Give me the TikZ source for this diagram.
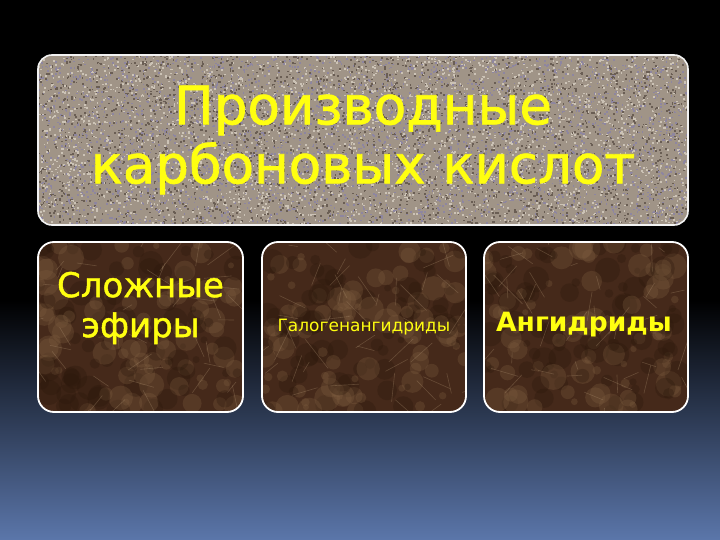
\documentclass[tikz,border=0pt]{standalone}
\usepackage{fontspec}
\setmainfont{DejaVu Sans}
\newfontfamily\thickfont[FakeBold=1.3]{DejaVu Sans}
\usetikzlibrary{calc}
\definecolor{bgblue}{HTML}{5B76AA}
\definecolor{bgmid}{HTML}{1C263A}
\definecolor{granite}{HTML}{A09487}
\definecolor{granD}{HTML}{6A5E54}
\definecolor{granL}{HTML}{CCC3B6}
\definecolor{granP}{HTML}{8E86A0}
\definecolor{marble}{HTML}{45291A}
\definecolor{marD}{HTML}{2A170B}
\definecolor{marL}{HTML}{7E5E40}
\definecolor{marV}{HTML}{A88C6C}
\definecolor{txtyellow}{HTML}{FFFF10}
\tikzset{
  granitebox/.style 2 args={draw=white!90!gray, line width=1.6pt, rounded corners=14pt,
    minimum width=#1, minimum height=#2, fill=granite, inner sep=0pt,
    path picture={
      \path (path picture bounding box.north west) coordinate (nw);
      \pgfmathsetseed{11}
      \foreach \i in {1,...,9000}{
        \pgfmathsetmacro\px{rnd*#1}
        \pgfmathsetmacro\py{rnd*#2}
        \pgfmathtruncatemacro\k{rnd*3}
        \ifcase\k \def\col{granD}\or \def\col{granL}\else \def\col{granP}\fi
        \fill[\col, sharp corners] ($(nw)+(\px,\py)$) rectangle +(1.7,1.7);
      }
    }},
  marblebox/.style n args={3}{draw=white, line width=1.8pt, rounded corners=16pt,
    minimum width=#1, minimum height=#2, fill=marble, inner sep=0pt,
    path picture={
      \path (path picture bounding box.north west) coordinate (nw);
      \pgfmathsetseed{#3}
      \foreach \i in {1,...,160}{
        \pgfmathsetmacro\px{rnd*#1}
        \pgfmathsetmacro\py{rnd*#2}
        \pgfmathsetmacro\r{3+rnd*10}
        \pgfmathtruncatemacro\k{rnd*2}
        \ifcase\k \def\col{marD}\else \def\col{marL}\fi
        \fill[\col, opacity=0.3, sharp corners] ($(nw)+(\px,\py)$) circle (\r);
      }
      \foreach \i in {1,...,45}{
        \pgfmathsetmacro\px{rnd*#1}
        \pgfmathsetmacro\py{rnd*#2}
        \pgfmathsetmacro\dx{(rnd-0.5)*60}
        \pgfmathsetmacro\dy{(rnd-0.5)*60}
        \draw[marV, opacity=0.35, line width=0.6pt, sharp corners] ($(nw)+(\px,\py)$) -- ++(\dx,\dy);
      }
    }},
  ytext/.style={text=txtyellow, align=center, inner sep=0pt}
}
\begin{document}
\begin{tikzpicture}[x=1pt,y=-1pt]
\useasboundingbox (0,0) rectangle (720,540);
\fill[black] (0,0) rectangle (720,540);
\shade[top color=black, middle color=bgmid, bottom color=bgblue] (0,300) rectangle (720,540);

\node[granitebox={650}{170}] (top) at (363,140) {};
\node[marblebox={205}{170}{3}] (b1) at (140.5,327) {};
\node[marblebox={204}{170}{5}] (b2) at (364,327) {};
\node[marblebox={204}{170}{9}] (b3) at (586,327) {};

\node[ytext, font=\thickfont\fontsize{53}{59}\selectfont] (t0) at (363,140) {Производные\\карбоновых кислот};
\node[ytext, font=\thickfont\fontsize{34}{40}\selectfont] (t1) at (140.5,308) {Сложные\\эфиры};
\node[ytext, font=\fontsize{17}{20}\selectfont] (t2) at (364,327) {Галогенангидриды};
\node[ytext, font=\bfseries\fontsize{26.5}{32}\selectfont] (t3) at (584,325) {Ангидриды};
\end{tikzpicture}
\end{document}
